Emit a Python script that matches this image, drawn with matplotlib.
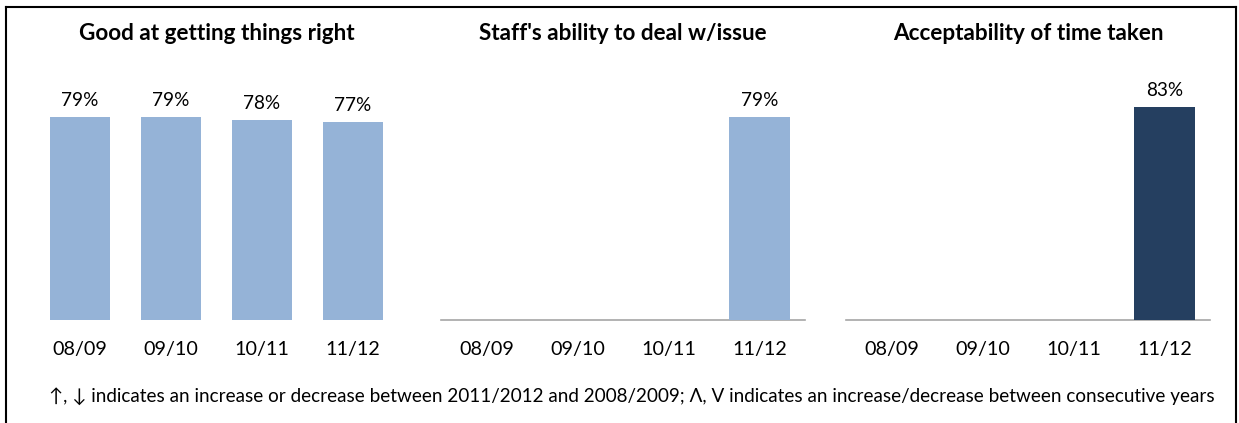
import matplotlib
matplotlib.use('Agg')
import matplotlib.pyplot as plt
from matplotlib.lines import Line2D
import numpy as np

plt.rcParams['font.family'] = ['Lato', 'DejaVu Sans']

years = ['08/09', '09/10', '10/11', '11/12']

titles = ['Good at getting things right',
          "Staff's ability to deal w/issue",
          'Acceptability of time taken']

good_at_right = [79, 79, 78, 77]
staff_ability = [None, None, None, 79]
time_taken = [None, None, None, 83]

bar_colors = ['#95b3d7', '#95b3d7', '#253f60']

footnote = ('\u2191, \u2193 indicates an increase or decrease between 2011/2012 and 2008/2009; '
            '\u039b, V indicates an increase/decrease between consecutive years')

W, H = 1239, 423
fig = plt.figure(figsize=(W / 100, H / 100), dpi=100)

# panel left edges in pixels; all panels share the same width
lefts = [34.5, 441, 846]
panel_w = 364
bottom_px = 320
height_px = 257


def draw_panel(ax, title, values, color, show_baseline):
    x = np.arange(len(years))
    vals = [np.nan if v is None else v for v in values]
    ax.bar(x, vals, width=0.66, color=color, zorder=2)
    for xi, v in zip(x, values):
        if v is None:
            continue
        ax.text(xi, v + 3.0, f'{v}%', ha='center', va='bottom', fontsize=13.7, color='black')

    ax.set_xlim(-0.5, len(years) - 0.5)
    ax.set_ylim(0, 100)
    ax.set_yticks([])
    ax.set_xticks(x)
    ax.set_xticklabels(years, fontsize=14.2)
    ax.tick_params(axis='x', length=0, pad=15)
    for side in ['top', 'right', 'left']:
        ax.spines[side].set_visible(False)
    if show_baseline:
        ax.spines['bottom'].set_color('#a6a6a6')
        ax.spines['bottom'].set_linewidth(1.2)
        ax.spines['bottom'].set_zorder(1)
    else:
        ax.spines['bottom'].set_visible(False)

    ax.text(0.5, 1 + 30 / height_px, title, transform=ax.transAxes,
            ha='center', va='center', fontsize=16.2, fontweight='bold')


series = [good_at_right, staff_ability, time_taken]
for i, (left, title, values, color) in enumerate(zip(lefts, titles, series, bar_colors)):
    ax = fig.add_axes([left / W, (H - bottom_px) / H, panel_w / W, height_px / H])
    draw_panel(ax, title, values, color, show_baseline=(i > 0))

fig.text(632 / W, 1 - 396 / H, footnote, ha='center', va='center', fontsize=13.6)

# open-bottomed frame around the chart
lw = 1.5
fig.add_artist(Line2D([6 / W, 6 / W], [0, 1 - 7 / H], color='black', lw=lw))
fig.add_artist(Line2D([1236 / W, 1236 / W], [0, 1 - 7 / H], color='black', lw=lw))
fig.add_artist(Line2D([6 / W, 1236 / W], [1 - 7 / H, 1 - 7 / H], color='black', lw=lw))

fig.savefig('out.png', dpi=100, facecolor='white')
